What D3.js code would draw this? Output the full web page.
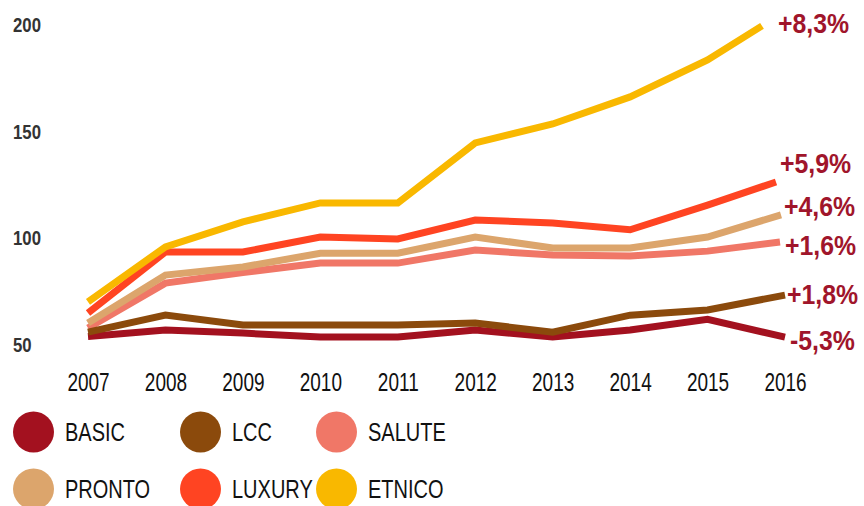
<!DOCTYPE html>
<html><head><meta charset="utf-8">
<script src="https://cdn.jsdelivr.net/npm/d3@7"></script>
<style>
body{margin:0;background:#fff;}
svg{display:block;}
</style></head>
<body><svg id="c" width="864" height="506"></svg>
<script>
const years = [2007,2008,2009,2010,2011,2012,2013,2014,2015,2016];
const yTicks = [50,100,150,200];
const seriesNames = ["BASIC","LCC","SALUTE","PRONTO","LUXURY","ETNICO"];
const seriesColors = ["#A3111F","#8B4A0C","#F07767","#DCA56C","#FF4422","#F9B800"];
const basic  = [54, 57, 55.6, 53.7, 53.7, 57, 53.7, 57, 62, 53.7];
const lcc    = [56, 64, 59.4, 59.4, 59.4, 60.3, 56, 64, 66.4, 73.4];
const salute = [58, 79, 84, 88.4, 88.4, 94.5, 92.2, 91.7, 94, 98.3];
const pronto = [60.3, 82.8, 86.6, 93, 93, 100.6, 95.5, 95.5, 100.6, 111];
const luxury = [65, 93.6, 93.6, 100.6, 99.7, 108.6, 107.2, 104, 115.6, 126.4];
const etnico = [70.2, 96, 107.7, 116.6, 116.6, 144.7, 153.6, 166.3, 183.6, 199.6];
const endLabels = ["-5,3%","+1,8%","+1,6%","+4,6%","+5,9%","+8,3%"];

const seriesValues = [basic, lcc, salute, pronto, luxury, etnico];
const svg = d3.select("#c");
const x = d3.scalePoint().domain(years).range([88, 785]);
const y = d3.scaleLinear().domain([50,200]).range([345, 25]);
const narrow = "'Liberation Sans','Arial',sans-serif";

// y tick labels
svg.append("g").selectAll("text").data(yTicks).join("text")
  .attr("transform", d => `translate(13,${y(d)}) scale(0.86,1)`)
  .attr("dy", "0.36em")
  .attr("font-family", narrow)
  .attr("font-weight", "bold").attr("font-size", 19.5).attr("fill", "#333")
  .text(d => d);

// x axis labels via axis
const xAxis = svg.append("g").attr("transform", "translate(0,373)")
  .call(d3.axisBottom(x).tickSize(0).tickPadding(0));
xAxis.select(".domain").remove();
xAxis.selectAll("text")
  .attr("font-family", narrow).attr("transform", "scale(0.76,1)")
  .attr("font-size", 25).attr("fill", "#111").attr("dy", "0.72em");

// lines (draw order); endTrim shortens the drawn end like the reference
const order = [0,2,3,1,4,5];
const endTrim = [0, 0, 5, 4, 9, 23];
svg.append("g").selectAll("path").data(order).join("path")
  .attr("d", k => d3.line()
      .x((d,i) => x(years[i]) - (i === years.length-1 ? endTrim[k] : 0))
      .y(d => y(d))(seriesValues[k]))
  .attr("fill", "none").attr("stroke", k => seriesColors[k])
  .attr("stroke-width", 7).attr("stroke-linecap", "butt").attr("stroke-linejoin", "miter");

// end labels
const labelY = [350, 304, 255, 216, 173, 33];
const labelX = [790, 787, 785, 784, 780, 778];
svg.append("g").selectAll("text").data(endLabels).join("text")
  .attr("transform", (d,i) => `translate(${labelX[i]},${labelY[i]}) scale(0.92,1)`)
  .attr("font-family", narrow)
  .attr("font-weight", "bold").attr("font-size", 27).attr("fill", "#A0152B")
  .text(d => d);

// legend
const legendX = [33.5, 200.5, 336.5];
const legendY = [432, 489];
const leg = svg.append("g").selectAll("g").data(seriesNames).join("g")
  .attr("transform", (d,i) => `translate(${legendX[i%3]},${legendY[Math.floor(i/3)]})`);
leg.append("circle").attr("r", 20.5).attr("fill", (d,i) => seriesColors[i]);
leg.append("text").attr("transform", "translate(31.5,0) scale(0.8,1)").attr("dy", "0.36em")
  .attr("font-family", narrow)
  .attr("font-size", 25).attr("fill", "#111")
  .text(d => d);
</script></body></html>
